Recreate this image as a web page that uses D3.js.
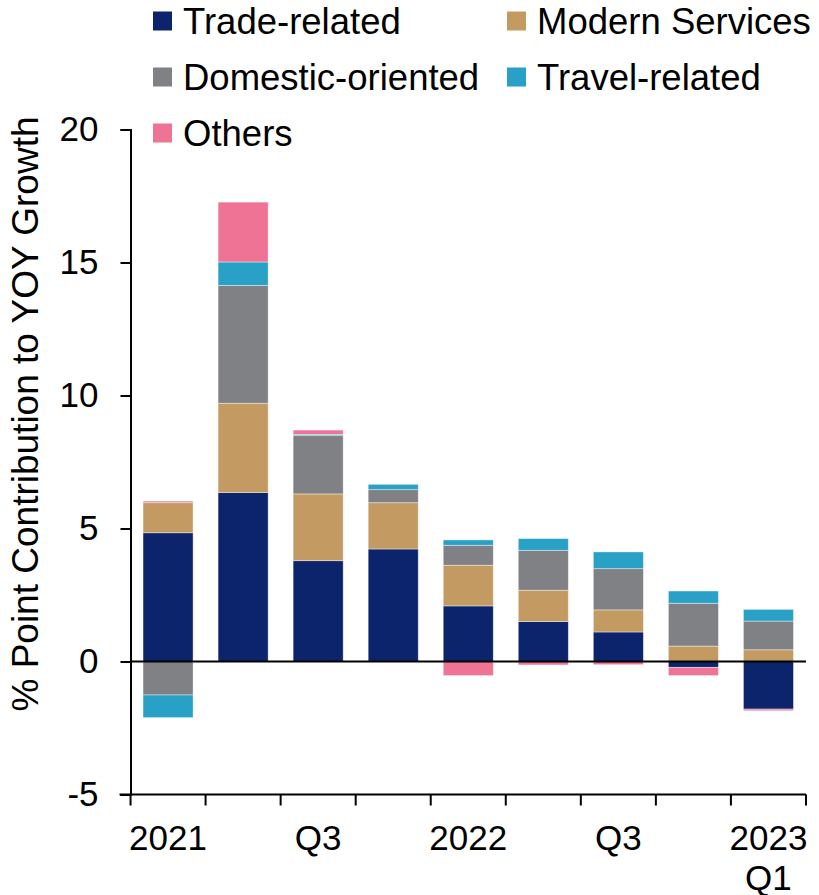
<!DOCTYPE html>
<html>
<head>
<meta charset="utf-8">
<script src="https://cdn.jsdelivr.net/npm/d3@7"></script>
<style>
  body { margin: 0; background: #fff; }
  svg text { font-family: "Liberation Sans", Arial, sans-serif; fill: #000; }
</style>
</head>
<body>
<svg id="chart" width="819" height="895"></svg>
<script>
// quarters, 2021 Q1 .. 2023 Q1
var quarters = ["2021Q1", "2021Q2", "2021Q3", "2021Q4", "2022Q1", "2022Q2", "2022Q3", "2022Q4", "2023Q1"];
var tickLabels = ["2021", "", "Q3", "", "2022", "", "Q3", "", "2023\nQ1"];

var seriesNames = ["Trade-related", "Modern Services", "Domestic-oriented", "Travel-related", "Others"];
var seriesColors = ["#0b246c", "#c39b62", "#808184", "#29a1c7", "#ee7394"];

// % point contribution per sector
var tradeRelated     = [4.84, 6.35, 3.79, 4.23, 2.09, 1.50, 1.11, -0.22, -1.79];
var modernServices   = [1.13, 3.36, 2.51, 1.74, 1.53, 1.18, 0.83, 0.58, 0.44];
var domesticOriented = [-1.26, 4.43, 2.19, 0.49, 0.75, 1.50, 1.55, 1.61, 1.08];
var travelRelated    = [-0.85, 0.88, 0.05, 0.20, 0.20, 0.44, 0.63, 0.46, 0.44];
var others           = [0.06, 2.25, 0.16, 0.00, -0.53, -0.13, -0.12, -0.31, -0.06];

var yTicks = [-5, 0, 5, 10, 15, 20];

var rows = quarters.map(function(q, i) {
  return {
    q: q,
    "Trade-related": tradeRelated[i],
    "Modern Services": modernServices[i],
    "Domestic-oriented": domesticOriented[i],
    "Travel-related": travelRelated[i],
    "Others": others[i]
  };
});

var svg = d3.select("#chart");
var plotLeft = 130.5, plotRight = 806, plotTop = 129.5, plotBottom = 794.5;

var x = d3.scaleBand().domain(quarters).range([plotLeft, plotRight])
  .paddingInner(0.333).paddingOuter(0.167);
var y = d3.scaleLinear().domain([-5, 20]).range([plotBottom, plotTop]);
var color = d3.scaleOrdinal().domain(seriesNames).range(seriesColors);

var stack = d3.stack().keys(seriesNames).offset(d3.stackOffsetDiverging);
var layers = stack(rows);

// bars
svg.append("g").selectAll("g")
  .data(layers)
  .join("g")
  .attr("fill", d => color(d.key))
  .selectAll("rect")
  .data(d => d)
  .join("rect")
  .attr("x", d => x(d.data.q))
  .attr("width", x.bandwidth())
  .attr("y", d => y(Math.max(d[0], d[1])))
  .attr("height", d => Math.abs(y(d[0]) - y(d[1])))
  .attr("stroke", "#fff")
  .attr("stroke-opacity", 0.5)
  .attr("stroke-width", 0.8);

// zero line
svg.append("line")
  .attr("x1", plotLeft).attr("x2", plotRight)
  .attr("y1", y(0)).attr("y2", y(0))
  .attr("stroke", "#000").attr("stroke-width", 2.2);

// y axis
var yAxis = svg.append("g")
  .attr("transform", "translate(" + plotLeft + ",0)")
  .call(d3.axisLeft(y).tickValues(yTicks).tickSize(10).tickPadding(22).tickFormat(d => String(d)));
yAxis.select(".domain").attr("stroke", "#000").attr("stroke-width", 2);
yAxis.selectAll(".tick line").attr("stroke", "#000").attr("stroke-width", 2);
yAxis.selectAll("text").style("font-size", "35px").attr("fill", "#000");

// x axis with ticks at category borders
var borders = quarters.map(q => x(q) - x.step() * x.paddingInner() / 2).concat([plotRight]);
var xg = svg.append("g");
xg.append("line")
  .attr("x1", plotLeft - 11).attr("x2", plotRight)
  .attr("y1", plotBottom).attr("y2", plotBottom)
  .attr("stroke", "#000").attr("stroke-width", 2);
xg.selectAll("line.xt")
  .data(borders)
  .join("line")
  .attr("class", "xt")
  .attr("x1", d => d).attr("x2", d => d)
  .attr("y1", plotBottom).attr("y2", plotBottom + 11)
  .attr("stroke", "#000").attr("stroke-width", 2);
xg.selectAll("text")
  .data(quarters)
  .join("text")
  .attr("x", d => x(d) + x.bandwidth() / 2)
  .attr("y", 850)
  .attr("text-anchor", "middle")
  .style("font-size", "35px")
  .each(function(d, i) {
    var lines = tickLabels[i].split("\n");
    d3.select(this).selectAll("tspan")
      .data(lines)
      .join("tspan")
      .attr("x", x(d) + x.bandwidth() / 2)
      .attr("dy", (l, j) => j === 0 ? 0 : 40)
      .text(l => l);
  });

// y axis title
svg.append("text")
  .attr("transform", "translate(38,414) rotate(-90)")
  .attr("text-anchor", "middle")
  .style("font-size", "37px")
  .text("% Point Contribution to YOY Growth");

// legend
var legendPos = [[153, 21], [507, 21], [153, 77], [507, 77], [153, 133]];
var legend = svg.append("g").selectAll("g")
  .data(seriesNames)
  .join("g")
  .attr("transform", (d, i) => "translate(" + legendPos[i][0] + "," + legendPos[i][1] + ")");
legend.append("rect")
  .attr("x", 0).attr("y", -9.5)
  .attr("width", 19).attr("height", 19)
  .attr("fill", d => color(d));
legend.append("text")
  .attr("x", 30).attr("y", 0)
  .attr("dy", "0.35em")
  .style("font-size", "36.5px")
  .text(d => d);
</script>
</body>
</html>
